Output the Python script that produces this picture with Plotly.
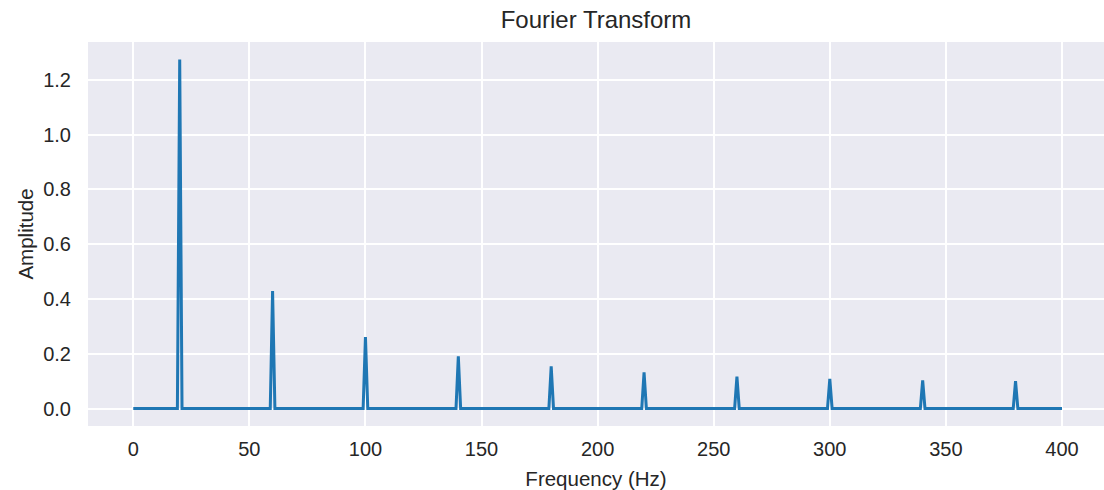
import numpy as np
import plotly.graph_objects as go

# Frequency bins (Hz)
freqs = list(range(0, 401))
# Spectral peaks
peak_freqs = [20, 60, 100, 140, 180, 220, 260, 300, 340, 380]
peak_amps = [1.274, 0.429, 0.261, 0.191, 0.154, 0.132, 0.117, 0.108, 0.103, 0.100]

amps = [0.0] * len(freqs)
for f, a in zip(peak_freqs, peak_amps):
    amps[freqs.index(f)] = a

x_ticks = [0, 50, 100, 150, 200, 250, 300, 350, 400]
y_ticks = [0.0, 0.2, 0.4, 0.6, 0.8, 1.0, 1.2]

font = "Liberation Sans, Arial, sans-serif"

fig = go.Figure()
fig.add_trace(go.Scatter(x=freqs, y=amps, mode="lines",
                         line=dict(color="#1f77b4", width=3),
                         showlegend=False))

fig.update_layout(
    width=1104, height=490,
    margin=dict(l=88, r=0, t=42, b=64, autoexpand=False),
    paper_bgcolor="white",
    plot_bgcolor="#EAEAF2",
    font=dict(family=font, color="#262626", size=20),
    title=dict(text="Fourier Transform", x=0.5, xref="paper", xanchor="center",
               y=1 - 20 / 490, yanchor="middle",
               font=dict(size=24, family=font, color="#262626")),
)
fig.update_xaxes(range=[-19.5, 418.1], tickvals=x_ticks,
                 ticktext=[str(v) for v in x_ticks],
                 showgrid=True, gridcolor="white", gridwidth=1.8,
                 zeroline=False, showline=False, ticks="outside", ticklen=5,
                 tickcolor="rgba(0,0,0,0)", automargin=False,
                 title=dict(text="Frequency (Hz)", font=dict(size=20.5), standoff=14))
fig.update_yaxes(range=[-0.0637, 1.3378], tickvals=y_ticks,
                 ticktext=[f"{v:.1f}" for v in y_ticks],
                 showgrid=True, gridcolor="white", gridwidth=1.8,
                 zeroline=False, showline=False, ticks="outside", ticklen=12,
                 tickcolor="rgba(0,0,0,0)", automargin=False,
                 title=dict(text="Amplitude", font=dict(size=20.5), standoff=4))

fig.write_html("out.html", config={"displayModeBar": False},
               post_script="document.body.style.margin='0';")
